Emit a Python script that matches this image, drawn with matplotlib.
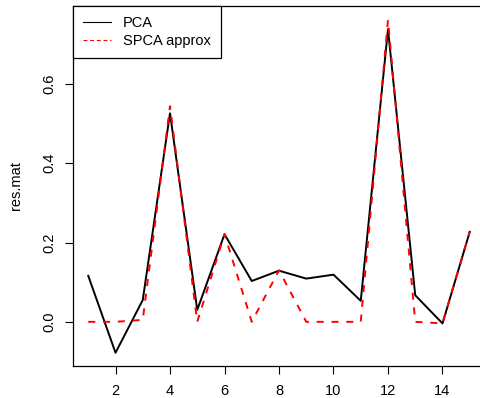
import matplotlib
matplotlib.use("Agg")
import matplotlib.pyplot as plt

plt.rcParams['font.family'] = ['Liberation Sans', 'DejaVu Sans']

idx = list(range(1, 16))
pca = [0.116, -0.078, 0.055, 0.526, 0.030, 0.221, 0.103, 0.129,
       0.109, 0.119, 0.053, 0.738, 0.067, -0.004, 0.227]
spca = [0.0, 0.0, 0.005, 0.544, 0.0, 0.221, 0.0, 0.130,
        0.0, 0.0, 0.0, 0.761, 0.0, -0.004, 0.227]
xticks = [2, 4, 6, 8, 10, 12, 14]
yticks = [0.0, 0.2, 0.4, 0.6]

fig = plt.figure(figsize=(4.8, 3.98), dpi=100)
ax = fig.add_axes([73/480, 32/398, 412/480, 360/398])

ax.plot(idx, pca, color="black", lw=1.4, label="PCA")
ax.plot(idx, spca, color="red", lw=1.4, linestyle=(0, (3.6, 4.0)),
        label="SPCA approx")

# R style 4% padding
ax.set_xlim(0.44, 15.56)
ax.set_ylim(-0.1114, 0.7966)
ax.set_xticks(xticks)
ax.set_xticklabels([str(t) for t in xticks])
ax.set_yticks(yticks)
ax.set_yticklabels(["%.1f" % t for t in yticks], rotation=90, va="center")
ax.tick_params(direction="out", length=6, width=0.8, labelsize=10.5)
ax.tick_params(axis="x", pad=7)
ax.tick_params(axis="y", pad=6)
for s in ax.spines.values():
    s.set_linewidth(0.9)
ax.set_ylabel("res.mat", fontsize=10.5, labelpad=14)

leg = ax.legend(loc="upper left", bbox_to_anchor=(0, 1), borderaxespad=0,
                fancybox=False, edgecolor="black", framealpha=1,
                fontsize=10.5, handlelength=1.9, handletextpad=0.8,
                borderpad=0.7, labelspacing=0.25)
leg.get_frame().set_linewidth(0.9)
for ln in leg.get_lines():
    ln.set_linewidth(0.8)
leg.get_lines()[1].set_dashes((3.5, 2.5))

fig.savefig("out.png", dpi=100)
